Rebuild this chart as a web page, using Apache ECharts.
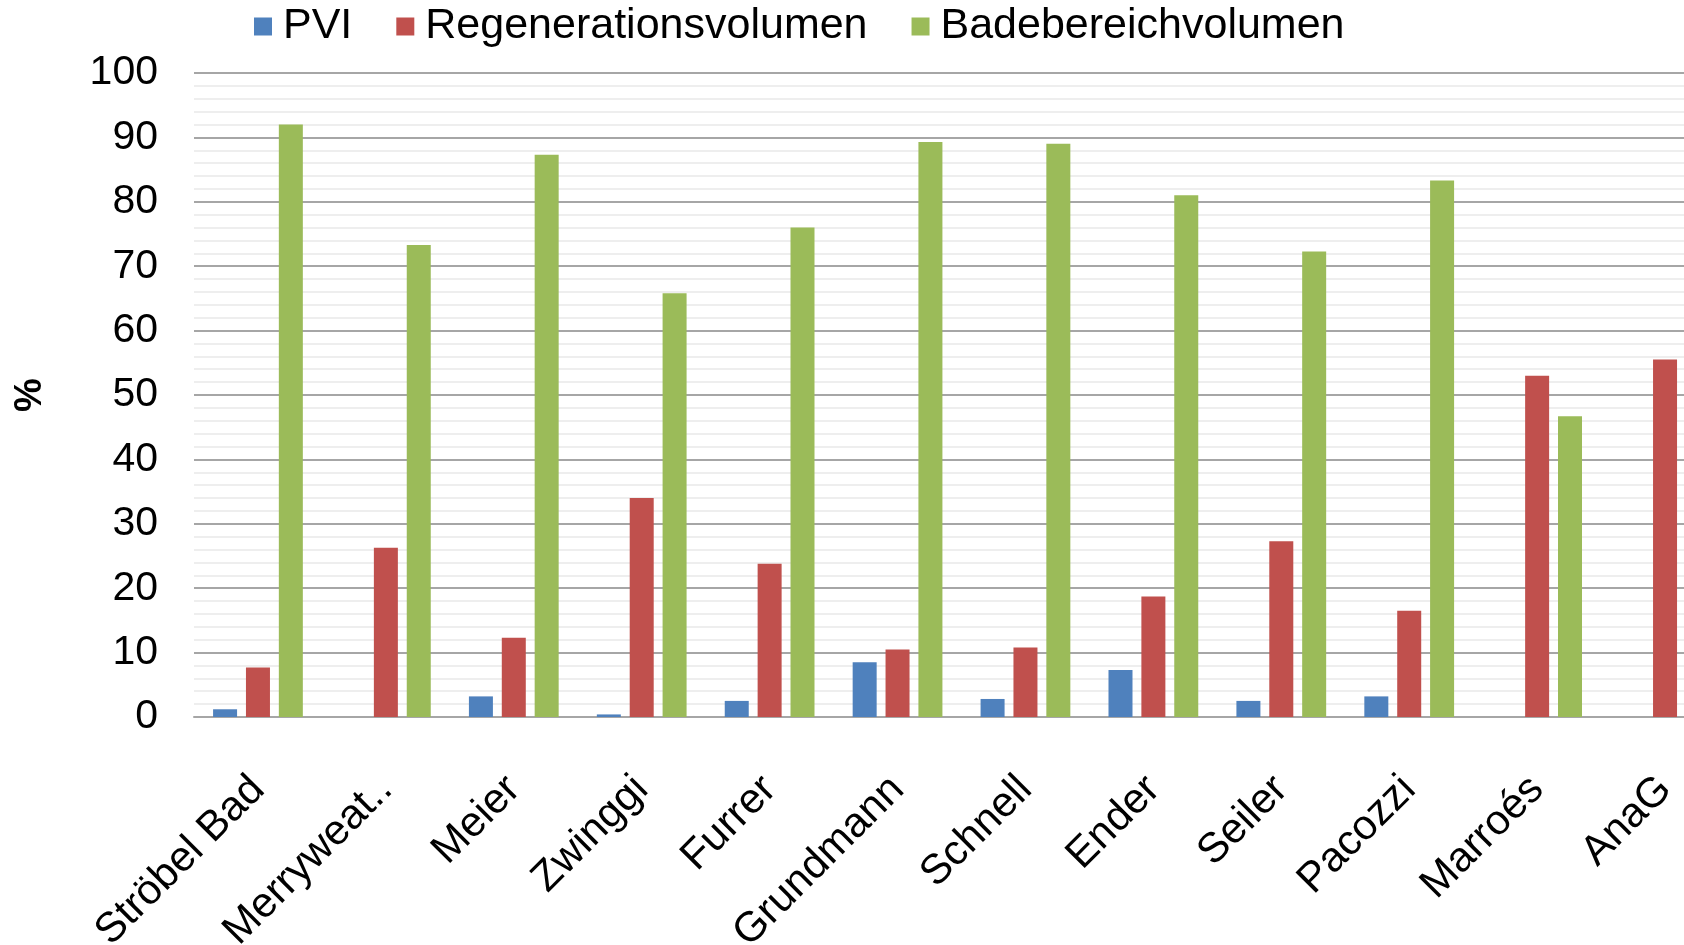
<!DOCTYPE html>
<html>
<head>
<meta charset="utf-8">
<script src="https://cdn.jsdelivr.net/npm/echarts@6/dist/echarts.min.js"></script>
<style>html,body{margin:0;padding:0;background:#fff}#c{width:1684px;height:945px}</style>
</head>
<body>
<div id="c"></div>
<script>
const categories = ['Ströbel Bad','Merryweat..','Meier','Zwinggi','Furrer','Grundmann','Schnell','Ender','Seiler','Pacozzi','Marroés','AnaG'];
const pvi = [1.2, 0, 3.2, 0.4, 2.5, 8.5, 2.8, 7.3, 2.5, 3.2, 0, 0];
const regeneration = [7.7, 26.3, 12.3, 34.0, 23.8, 10.5, 10.8, 18.7, 27.3, 16.5, 53.0, 55.5];
const badebereich = [92.0, 73.3, 87.3, 65.8, 76.0, 89.3, 89.0, 81.0, 72.3, 83.3, 46.7, 44.5];
const yTicks = [0,10,20,30,40,50,60,70,80,90,100];

const FONT = "'Liberation Sans', Arial, sans-serif";
const chart = echarts.init(document.getElementById('c'), null, {renderer:'canvas'});
chart.setOption({
  animation:false,
  backgroundColor:'#ffffff',
  color:['#4F81BD','#C0504D','#9BBB59'],
  legend:{
    left:249, top:0, itemWidth:18, itemHeight:18, itemGap:44,
    icon:'rect',
    textStyle:{fontFamily:FONT, fontSize:43, color:'#000', padding:[0,0,0,6]},
    data:['PVI','Regenerationsvolumen','Badebereichvolumen']
  },
  grid:{left:194, top:73, height:644, width:1535, containLabel:false, outerBoundsMode:'none'},
  xAxis:{
    type:'category', data:categories,
    axisLine:{lineStyle:{color:'#a6a6a6', width:2}},
    axisTick:{show:false},
    axisLabel:{rotate:45, fontFamily:FONT, fontSize:42, color:'#000', margin:66, interval:0}
  },
  yAxis:{
    type:'value', min:yTicks[0], max:yTicks[yTicks.length-1], interval:10,
    name:'%', nameLocation:'middle', nameRotate:90, nameGap:144,
    nameTextStyle:{fontFamily:FONT, fontSize:38, fontWeight:'bold', color:'#000'},
    axisLine:{show:false}, axisTick:{show:false},
    axisLabel:{fontFamily:FONT, fontSize:41, color:'#000', margin:36},
    splitLine:{lineStyle:{color:'#a6a6a6', width:2}},
    minorTick:{show:false, splitNumber:5},
    minorSplitLine:{show:true, lineStyle:{color:'#eeeeee', width:2}}
  },
  series:[
    {name:'PVI', type:'bar', data:pvi, barWidth:24, barGap:'37%'},
    {name:'Regenerationsvolumen', type:'bar', data:regeneration, barWidth:24, barGap:'37%'},
    {name:'Badebereichvolumen', type:'bar', data:badebereich, barWidth:24, barGap:'37%'}
  ]
});
</script>
</body>
</html>
